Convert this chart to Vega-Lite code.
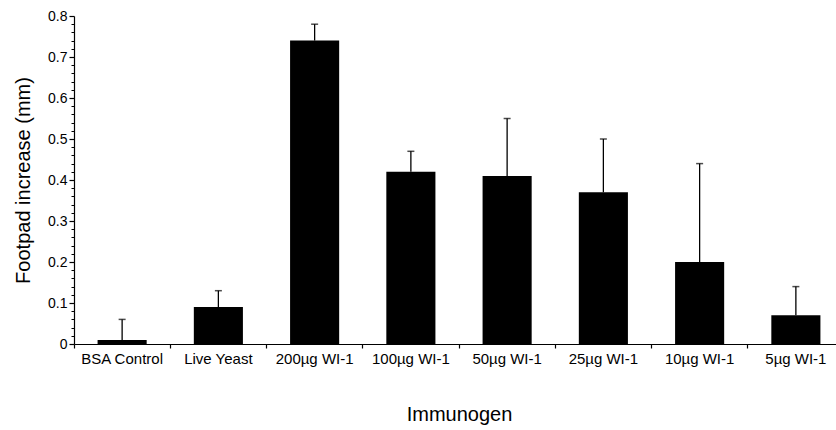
{
  "$schema": "https://vega.github.io/schema/vega-lite/v6.json",
  "autosize": "none",
  "width": 762,
  "height": 328,
  "padding": {"left": 74, "top": 16, "right": 0, "bottom": 86},
  "background": "white",
  "config": {
    "view": {"stroke": null},
    "font": "Liberation Sans",
    "axis": {"domainColor": "black", "tickColor": "black", "labelColor": "black", "titleColor": "black", "grid": false, "labelFont": "Liberation Sans", "titleFont": "Liberation Sans", "titleFontWeight": "normal", "domainWidth": 1.2, "tickWidth": 1.2}
  },
  "data": {
    "values": [
      {"group": "BSA Control", "value": 0.01, "upper": 0.06},
      {"group": "Live Yeast", "value": 0.09, "upper": 0.13},
      {"group": "200µg WI-1", "value": 0.74, "upper": 0.78},
      {"group": "100µg WI-1", "value": 0.42, "upper": 0.47},
      {"group": "50µg WI-1", "value": 0.41, "upper": 0.55},
      {"group": "25µg WI-1", "value": 0.37, "upper": 0.50},
      {"group": "10µg WI-1", "value": 0.20, "upper": 0.44},
      {"group": "5µg WI-1", "value": 0.07, "upper": 0.14}
    ]
  },
  "encoding": {
    "x": {
      "field": "group",
      "type": "nominal",
      "sort": null,
      "scale": {"range": [0, 770], "paddingInner": 0, "paddingOuter": 0},
      "axis": {"title": "Immunogen", "labelAngle": 0, "labelFontSize": 15, "titleFontSize": 20, "bandPosition": 0, "tickSize": 4, "labelPadding": 3, "titlePadding": 38}
    }
  },
  "layer": [
    {
      "mark": {"type": "bar", "color": "black", "width": {"band": 0.51}},
      "encoding": {
        "y": {
          "field": "value",
          "type": "quantitative",
          "scale": {"domain": [0, 0.8], "nice": false},
          "axis": {
            "title": "Footpad increase (mm)",
            "titleFontSize": 20,
            "titlePadding": 14,
            "labelFontSize": 14,
            "labelPadding": 2,
            "tickSize": 5,
            "values": [0, 0.1, 0.2, 0.3, 0.4, 0.5, 0.6, 0.7, 0.8],
            "format": "~g"
          }
        }
      }
    },
    {
      "mark": {"type": "rule", "color": "black", "strokeWidth": 1.3},
      "encoding": {
        "y": {
          "field": "value",
          "type": "quantitative",
          "axis": {
            "title": null,
            "orient": "left",
            "domain": false,
            "labels": false,
            "tickSize": 3,
            "tickWidth": 1,
            "values": [0.02, 0.04, 0.06, 0.08, 0.12, 0.14, 0.16, 0.18, 0.22, 0.24, 0.26, 0.28, 0.32, 0.34, 0.36, 0.38, 0.42, 0.44, 0.46, 0.48, 0.52, 0.54, 0.56, 0.58, 0.62, 0.64, 0.66, 0.68, 0.72, 0.74, 0.76, 0.78]
          }
        },
        "y2": {"field": "upper"}
      }
    },
    {
      "mark": {"type": "tick", "color": "black", "size": 7, "thickness": 1.5},
      "encoding": {
        "y": {"field": "upper", "type": "quantitative", "axis": null}
      }
    }
  ],
  "resolve": {"axis": {"y": "independent"}}
}
